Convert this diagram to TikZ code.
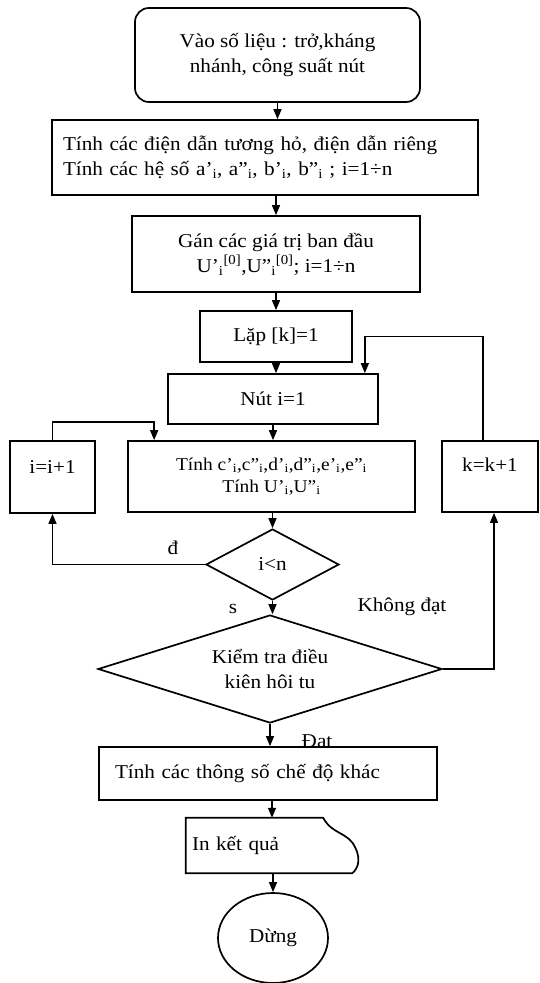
\documentclass[tikz,border=0pt]{standalone}
\usepackage{fontspec}
\setmainfont{Liberation Serif}[FakeStretch=1.08]
\usetikzlibrary{shapes.geometric,arrows.meta,positioning,calc}

\newcommand{\subi}{\textsubscript{i}}
\newcommand{\initv}{\textsubscript{i}\textsuperscript{[0]}}

\begin{document}
\begin{tikzpicture}[
    x=1pt, y=-1pt,
    font=\fontsize{19.6}{25}\selectfont,
    box/.style={rectangle, draw, line width=1.7pt, inner sep=2pt, align=center},
    decision/.style={diamond, draw, line width=1.7pt, inner sep=0pt, align=center},
    arr/.style={-{Triangle[length=10pt,width=8pt]}, line width=1.4pt}
]
    \useasboundingbox (0,0) rectangle (539,983);

    % main column
    \node [box, rounded corners=14pt, minimum width=285pt, minimum height=94pt] (start) at (277.5,55) {Vào số liệu : trở,kháng\\nhánh, công suất nút};
    \node [box, minimum width=426pt, minimum height=75pt, text width=404pt, align=left] (coeff) at (265,157.5) {Tính các điện dẫn tương hỏ, điện dẫn riêng\\Tính các hệ số a’\subi, a”\subi, b’\subi, b”\subi{} ; i=1÷n};
    \node [box, minimum width=288pt, minimum height=76pt] (init) at (276,254) {Gán các giá trị ban đầu\\U’\initv,U”\initv; i=1÷n};
    \node [box, minimum width=152pt, minimum height=51pt] (iter) at (276,336.5) {Lặp [k]=1};
    \node [box, minimum width=210pt, minimum height=50pt] (nut) at (273,399) {Nút i=1};
    \node [box, minimum width=287pt, minimum height=71pt, font=\fontsize{18}{22}\selectfont] (tinh) at (271.5,476.5) {Tính c’\subi,c”\subi,d’\subi,d”\subi,e’\subi,e”\subi\\Tính U’\subi,U”\subi};
    \node [decision, shape aspect=1.87, minimum width=133pt, minimum height=71pt] (test) at (272.5,564.5) {i<n};
    \node [decision, shape aspect=3.18, minimum width=344pt, minimum height=108pt] (conv) at (270,669) {Kiểm tra điều\\kiên hôi tu};
    \node [box, minimum width=338pt, minimum height=53pt, text width=306pt, align=left] (other) at (268,773.5) {Tính các thông số chế độ khác};
    \node [minimum width=172pt, minimum height=55pt, text width=160pt, inner sep=2pt, align=left] (print) at (272,845.5) {In kết quả};
    \node [draw, ellipse, line width=1.7pt, minimum width=110pt, minimum height=90pt] (stop) at (273,938) {Dừng};

    % side boxes
    \node [box, minimum width=85pt, minimum height=72pt, text height=29pt, text depth=37pt] (inc) at (52.5,477) {i=i+1};
    \node [box, minimum width=96pt, minimum height=71pt, text height=27pt, text depth=38pt] (kinc) at (490,476.5) {k=k+1};

    % document outline
    \draw [line width=1.7pt] (print.north west) -- ($(print.north east)+(-35,0)$)
        .. controls ($(print.north east)+(-26,17)$) and ($(print.north east)+(-10,14)$) .. ($(print.east)+(-3,2)$)
        .. controls ($(print.east)+(4,16)$) and ($(print.south east)+(-2,-3)$) .. ($(print.south east)+(-6,0)$)
        -- (print.south west) -- cycle;

    % labels
    \node (ldung) at (173,548) {đ};
    \node (lsai) at (233,609) {s};
    \node (lkhong) at (402,607) {Không đạt};
    \node (ldat) at (317,741) {Đat};

    % flow
    \draw [arr] (start.south) -- (start.south |- coeff.north);
    \draw [arr] (init.north |- coeff.south) -- (init.north);
    \draw [arr] (init.south) -- (iter.north);
    \draw [arr] (iter.south) -- (iter.south |- nut.north);
    \draw [arr] (nut.south) -- (nut.south |- tinh.north);
    \draw [arr] (test.north |- tinh.south) -- (test.north);
    \draw [arr] (test.south) -- (test.south |- conv.north);
    \draw [arr] (conv.south) -- (conv.south |- other.north);
    \draw [arr] (print.north |- other.south) -- (print.north);
    \draw [arr] (stop.north |- print.south) -- (stop.north);

    % loops
    \draw [arr] (test.west) -| (inc.south);
    \draw [arr] (inc.north) -- ++(0,-18) -| ([xshift=27pt]tinh.north west);
    \draw [arr] (conv.east) -| ([xshift=4pt]kinc.south);
    \coordinate (kback) at ([xshift=-14pt]nut.north east);
    \draw [arr] ([xshift=-7pt]kinc.north) |- (kback |- iter.east) -- (kback);
\end{tikzpicture}
\end{document}
